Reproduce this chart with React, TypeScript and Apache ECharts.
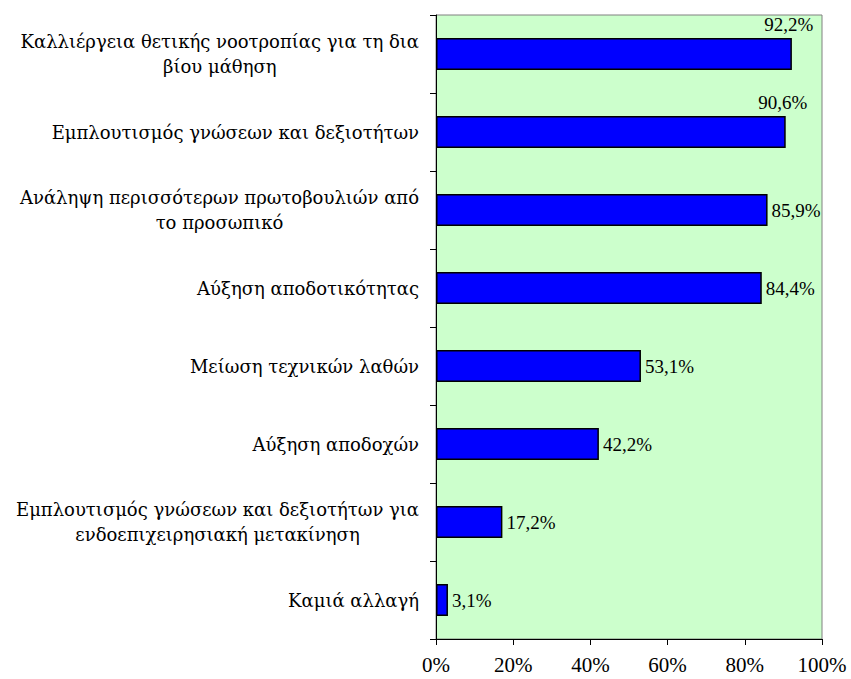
import React, { useEffect, useRef } from "react";
import * as echarts from "echarts";

const categories = [
  "Καλλιέργεια θετικής νοοτροπίας για τη δια\nβίου μάθηση",
  "Εμπλουτισμός γνώσεων και δεξιοτήτων",
  "Ανάληψη περισσότερων πρωτοβουλιών από\nτο προσωπικό",
  "Αύξηση αποδοτικότητας",
  "Μείωση τεχνικών λαθών",
  "Αύξηση αποδοχών",
  "Εμπλουτισμός γνώσεων και δεξιοτήτων για\nενδοεπιχειρησιακή μετακίνηση",
  "Καμιά αλλαγή",
];
const values = [92.2, 90.6, 85.9, 84.4, 53.1, 42.2, 17.2, 3.1];
const labelsAbove = [true, true, false, false, false, false, false, false];
const xTicks = [0, 20, 40, 60, 80, 100];

const FONT = "'Liberation Serif', 'Times New Roman', serif";
const GREEK_FONT = "'DejaVu Serif', serif";

export default function App() {
  const ref = useRef<HTMLDivElement>(null);
  useEffect(() => {
    if (!ref.current) return;
    const chart = echarts.init(ref.current, null, { renderer: "svg" });
    const fmt = (v: number) => v.toFixed(1).replace(".", ",") + "%";
    chart.setOption({
      animation: false,
      backgroundColor: "#ffffff",
      grid: {
        left: 436,
        right: 29,
        top: 15,
        bottom: 40,
        show: true,
        backgroundColor: "#CCFFCC",
        borderColor: "#808080",
        borderWidth: 1,
      },
      xAxis: {
        type: "value",
        min: xTicks[0],
        max: xTicks[xTicks.length - 1],
        interval: 20,
        splitLine: { show: false },
        axisLine: { show: true, lineStyle: { color: "#000", width: 1 } },
        axisTick: { show: true, length: 6, lineStyle: { color: "#000" } },
        axisLabel: {
          formatter: (v: number) => v + "%",
          fontFamily: FONT,
          fontSize: 21,
          color: "#000",
          margin: 15,
        },
      },
      yAxis: {
        type: "category",
        data: categories,
        inverse: true,
        axisLine: { show: true, lineStyle: { color: "#000", width: 1 } },
        axisTick: { show: true, length: 6, lineStyle: { color: "#000" } },
        axisLabel: {
          fontFamily: GREEK_FONT,
          fontSize: 18,
          color: "#000",
          margin: 17,
          align: "right",
          lineHeight: 25,
          formatter: (v: string) =>
            v
              .split("\n")
              .map((l) => "{c|" + l + "}")
              .join("\n"),
          rich: {
            c: {
              align: "center",
              fontFamily: GREEK_FONT,
              fontSize: 18,
              lineHeight: 25,
              color: "#000",
            },
          },
        },
      },
      series: [
        {
          type: "bar",
          barWidth: "41%",
          data: values.map((v, i) => ({
            value: v,
            label: labelsAbove[i]
              ? {
                  position: ["100%", -4],
                  align: "center",
                  verticalAlign: "bottom",
                  offset: [-3, 0],
                }
              : { position: "right", distance: 4 },
          })),
          itemStyle: {
            color: "#0000FF",
            borderColor: "#000",
            borderWidth: 1.5,
          },
          label: {
            show: true,
            formatter: (p: any) => fmt(p.value),
            fontFamily: FONT,
            fontSize: 19,
            color: "#000",
          },
        },
      ],
    });
    return () => chart.dispose();
  }, []);
  return (
    <div
      ref={ref}
      style={{ position: "absolute", left: 0, top: 0, width: 851, height: 679 }}
    />
  );
}
